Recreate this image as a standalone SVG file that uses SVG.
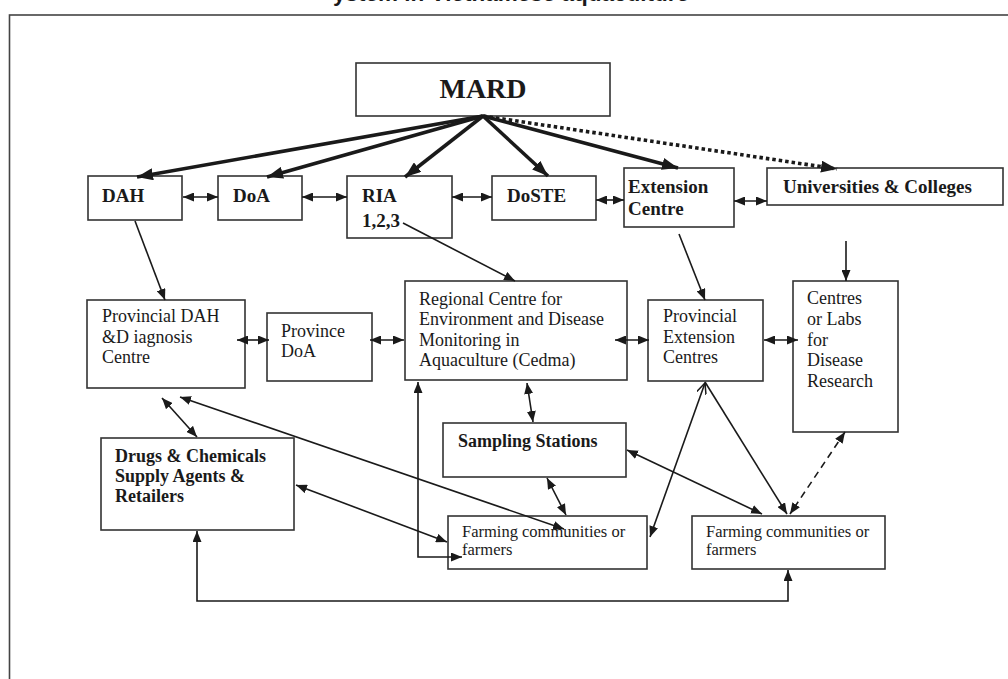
<svg xmlns="http://www.w3.org/2000/svg" width="1008" height="679" viewBox="0 0 1008 679">
<style>
.box{fill:#fff;stroke:#333;stroke-width:1.6}
.t{font-family:"Liberation Serif","Times New Roman",serif;fill:#1a1a1a}
.b19{font-weight:bold;font-size:19px}
.b18{font-weight:bold;font-size:18px}
.r18{font-size:18px}
.r16{font-size:16.5px}
.c{fill:none;stroke:#1a1a1a;stroke-width:1.6}
.thick{fill:none;stroke:#1a1a1a;stroke-width:3.6}
</style>
<defs>
<marker id="a" markerUnits="userSpaceOnUse" markerWidth="11" markerHeight="9" refX="11" refY="4.5" orient="auto-start-reverse"><path d="M0,0 L11,4.5 L0,9 z" fill="#1a1a1a"/></marker>
<marker id="ab" markerUnits="userSpaceOnUse" markerWidth="16" markerHeight="12" refX="16" refY="6" orient="auto-start-reverse"><path d="M0,0 L16,6 L0,12 z" fill="#1a1a1a"/></marker>
<marker id="ao" markerUnits="userSpaceOnUse" markerWidth="12" markerHeight="10" refX="11" refY="5" orient="auto-start-reverse"><path d="M0,0 L11,5 L0,10" fill="none" stroke="#1a1a1a" stroke-width="1.5"/></marker>
</defs>
<rect x="0" y="0" width="1008" height="679" fill="#fff"/>
<text x="511" y="1" text-anchor="middle" font-family="Liberation Sans, Arial, sans-serif" font-weight="bold" font-size="22.5" fill="#1a1a1a">ystem in Vietnamese aquaculture</text>
<rect x="9.5" y="15" width="1100" height="800" fill="none" stroke="#444" stroke-width="1.6"/>

<g id="mard"><rect class="box" x="356" y="63" width="254" height="53"/><text class="t" x="483" y="98" text-anchor="middle" font-weight="bold" font-size="28">MARD</text></g>
<g id="dah"><rect class="box" x="88" y="176" width="94" height="44"/><text class="t b19" x="102" y="202">DAH</text></g>
<g id="doa"><rect class="box" x="218" y="176" width="84" height="44"/><text class="t b19" x="233" y="202">DoA</text></g>
<g id="ria"><rect class="box" x="347" y="176" width="105" height="62"/><text class="t b19" x="362" y="202">RIA</text><text class="t b19" x="362" y="227">1,2,3</text></g>
<g id="doste"><rect class="box" x="492" y="176" width="104" height="44"/><text class="t b19" x="507" y="202">DoSTE</text></g>
<g id="extension"><rect class="box" x="624" y="168" width="110" height="59"/><text class="t b19" x="628" y="193">Extension</text><text class="t b19" x="628" y="215">Centre</text></g>
<g id="universities"><rect class="box" x="767" y="168" width="236" height="37"/><text class="t b19" x="783" y="193">Universities &amp; Colleges</text></g>

<g id="prov-dah"><rect class="box" x="87" y="300" width="158" height="88"/><text class="t r18" x="102" y="322">Provincial DAH</text><text class="t r18" x="102" y="343">&amp;D iagnosis</text><text class="t r18" x="102" y="363">Centre</text></g>
<g id="prov-doa"><rect class="box" x="267" y="313" width="105" height="68"/><text class="t r18" x="281" y="337">Province</text><text class="t r18" x="281" y="357">DoA</text></g>
<g id="cedma"><rect class="box" x="405" y="281" width="222" height="99"/><text class="t r18" x="419" y="305">Regional Centre for</text><text class="t r18" x="419" y="325">Environment and Disease</text><text class="t r18" x="419" y="346">Monitoring in</text><text class="t r18" x="419" y="366">Aquaculture (Cedma)</text></g>
<g id="prov-ext"><rect class="box" x="648" y="300" width="115" height="81"/><text class="t r18" x="663" y="322">Provincial</text><text class="t r18" x="663" y="343">Extension</text><text class="t r18" x="663" y="363">Centres</text></g>
<g id="labs"><rect class="box" x="793" y="281" width="105" height="151"/><text class="t r18" x="807" y="304">Centres</text><text class="t r18" x="807" y="325">or Labs</text><text class="t r18" x="807" y="346">for</text><text class="t r18" x="807" y="366">Disease</text><text class="t r18" x="807" y="387">Research</text></g>

<g id="sampling"><rect class="box" x="443" y="423" width="183" height="54"/><text class="t b18" x="458" y="447">Sampling Stations</text></g>
<g id="drugs"><rect class="box" x="101" y="438" width="193" height="92"/><text class="t b18" x="115" y="462">Drugs &amp; Chemicals</text><text class="t b18" x="115" y="482">Supply Agents &amp;</text><text class="t b18" x="115" y="502">Retailers</text></g>
<g id="farming1"><rect class="box" x="448" y="516" width="199" height="53"/><text class="t r16" x="462" y="537">Farming communities or</text><text class="t r16" x="462" y="555">farmers</text></g>
<g id="farming2"><rect class="box" x="692" y="516" width="193" height="53"/><text class="t r16" x="706" y="537">Farming communities or</text><text class="t r16" x="706" y="555">farmers</text></g>

<g id="connectors">
<line class="thick" x1="483" y1="116" x2="137" y2="177" marker-end="url(#ab)"/>
<line class="thick" x1="483" y1="116" x2="267" y2="177" marker-end="url(#ab)"/>
<line class="thick" x1="483" y1="116" x2="405" y2="177" marker-end="url(#ab)"/>
<line class="thick" x1="483" y1="116" x2="548" y2="176" marker-end="url(#ab)"/>
<line class="thick" x1="483" y1="116" x2="678" y2="168" marker-end="url(#ab)"/>
<line class="thick" x1="483" y1="116" x2="837" y2="169" stroke-dasharray="3.5,3" marker-end="url(#ab)"/>

<line class="c" x1="183" y1="197" x2="218" y2="197" marker-start="url(#a)" marker-end="url(#a)"/>
<line class="c" x1="302" y1="197" x2="347" y2="197" marker-start="url(#a)" marker-end="url(#a)"/>
<line class="c" x1="452" y1="197" x2="492" y2="197" marker-start="url(#a)" marker-end="url(#a)"/>
<line class="c" x1="596" y1="200" x2="624" y2="200" marker-start="url(#a)" marker-end="url(#a)"/>
<line class="c" x1="734" y1="201" x2="767" y2="201" marker-start="url(#a)" marker-end="url(#a)"/>

<line class="c" x1="135" y1="221" x2="165" y2="300" marker-end="url(#a)"/>
<line class="c" x1="403" y1="223" x2="515" y2="281" marker-end="url(#a)"/>
<line class="c" x1="679" y1="234" x2="705" y2="300" marker-end="url(#a)"/>
<line class="c" x1="846" y1="241" x2="846" y2="281" marker-end="url(#a)"/>

<line class="c" x1="237" y1="340" x2="269" y2="340" marker-start="url(#a)" marker-end="url(#a)"/>
<line class="c" x1="370" y1="340" x2="404" y2="340" marker-start="url(#a)" marker-end="url(#a)"/>
<line class="c" x1="615" y1="340" x2="649" y2="340" marker-start="url(#a)" marker-end="url(#a)"/>
<line class="c" x1="764" y1="340" x2="798" y2="340" marker-start="url(#a)" marker-end="url(#a)"/>

<line class="c" x1="527" y1="383" x2="533" y2="422" marker-start="url(#a)" marker-end="url(#a)"/>
<line class="c" x1="162" y1="398" x2="197" y2="437" marker-start="url(#a)" marker-end="url(#a)"/>
<line class="c" x1="180" y1="397" x2="564" y2="529" marker-start="url(#a)" marker-end="url(#a)"/>
<line class="c" x1="296" y1="485" x2="447" y2="542" marker-start="url(#a)" marker-end="url(#a)"/>
<path class="c" d="M418,382 V557 H462" marker-start="url(#a)" marker-end="url(#a)"/>
<line class="c" x1="547" y1="478" x2="566" y2="515" marker-start="url(#a)" marker-end="url(#a)"/>
<line class="c" x1="705" y1="383" x2="650" y2="537" marker-start="url(#ao)" marker-end="url(#a)"/>
<line class="c" x1="705" y1="382" x2="787" y2="514" marker-end="url(#a)"/>
<line class="c" x1="627" y1="450" x2="762" y2="514" marker-start="url(#a)" marker-end="url(#a)"/>
<line class="c" x1="845" y1="432" x2="790" y2="514" stroke-dasharray="7,5" marker-start="url(#a)" marker-end="url(#a)"/>
<path class="c" d="M197,531 V601 H788 V570" marker-start="url(#a)" marker-end="url(#a)"/>
</g>
</svg>
